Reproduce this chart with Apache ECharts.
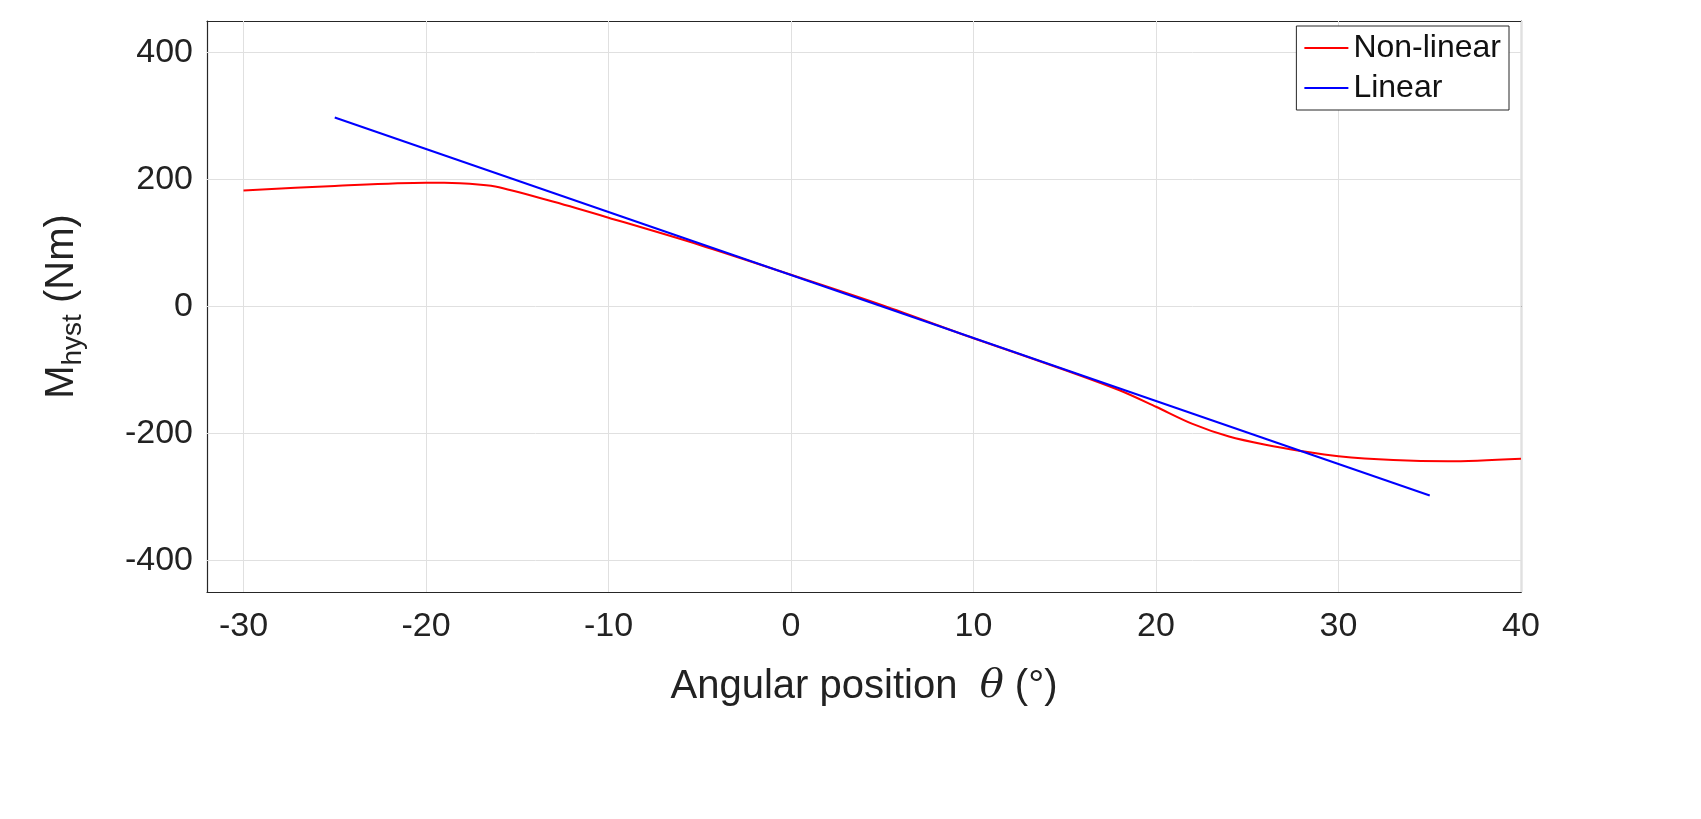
<!DOCTYPE html>
<html>
<head>
<meta charset="utf-8">
<script src="https://cdn.jsdelivr.net/npm/echarts@6/dist/echarts.min.js"></script>
</head>
<body style="margin:0;background:#fff">
<div id="main" style="width:1701px;height:819px"></div>
<script>
// data
var nonLinear = [[-30,183],[-25,190],[-20,195],[-19,195],[-17,192],[-16,188],[-13,165],[-10,140],[-5,97],[0,50],[5,2],[10,-50],[15,-100],[18,-132],[20,-158],[22,-185],[24,-205],[26,-218],[28,-228],[30,-236],[33,-242],[36,-244],[40,-240]];
var linear = [[-25,298],[35,-298]];
var xTicks = [-30,-20,-10,0,10,20,30,40];
var yTicks = [-400,-200,0,200,400];

var chart = echarts.init(document.getElementById('main'));
var font = 'Liberation Sans, Arial, sans-serif';
var frame = {color: '#262626', width: 1.2};
chart.setOption({
  animation: false,
  grid: {left: 207, right: 180, top: 21, bottom: 227},
  legend: {
    right: 192, top: 26, orient: 'vertical', itemWidth: 44, itemHeight: 2, itemGap: 8, z: 20,
    backgroundColor: '#fff', borderColor: '#262626', borderWidth: 1, borderRadius: 0,
    padding: [6, 8, 6, 8],
    textStyle: {fontSize: 32, fontFamily: font, color: '#111'},
    icon: 'rect',
    data: ['Non-linear', 'Linear']
  },
  xAxis: [{
    type: 'value', min: -32, max: 40,
    name: 'Angular position  {i|θ} (°)', nameLocation: 'middle', nameGap: 75,
    nameTextStyle: {fontSize: 40, fontFamily: font, color: '#222', rich: {i: {fontSize: 40, fontStyle: 'italic', fontFamily: 'DejaVu Serif'}}},
    axisLine: {onZero: false, lineStyle: frame},
    axisTick: {customValues: xTicks, inside: true, length: 10, lineStyle: {color: '#262626'}},
    axisLabel: {customValues: xTicks, fontSize: 34, fontFamily: font, color: '#222', margin: 18},
    splitLine: {show: false}
  }, {
    type: 'value', min: -32, max: 40, position: 'top',
    axisLine: {show: true, onZero: false, lineStyle: frame},
    axisTick: {show: false}, axisLabel: {show: false}, splitLine: {show: false}
  }],
  yAxis: [{
    type: 'value', min: -450, max: 450,
    name: '{m|M}{s|hyst}{m| (Nm)}', nameLocation: 'middle', nameGap: 120,
    nameTextStyle: {rich: {m: {fontSize: 40, fontFamily: font, color: '#222'}, s: {fontSize: 28, fontFamily: font, color: '#222', padding: [22, 0, 0, 0]}}},
    axisLine: {show: true, onZero: false, lineStyle: frame},
    axisTick: {customValues: yTicks, inside: true, length: 10, lineStyle: {color: '#262626'}},
    axisLabel: {customValues: yTicks, fontSize: 34, fontFamily: font, color: '#222', margin: 14},
    splitLine: {show: false}
  }, {
    type: 'value', min: -450, max: 450, position: 'right',
    axisLine: {show: true, onZero: false, lineStyle: frame},
    axisTick: {show: false}, axisLabel: {show: false}, splitLine: {show: false}
  }],
  series: [
    {name: 'grid', type: 'line', data: [], silent: true, z: 1,
     markLine: {silent: true, symbol: 'none', label: {show: false}, z: 1,
       lineStyle: {color: '#e0e0e0', width: 1, type: 'solid'},
       data: xTicks.map(function (v) { return {xAxis: v}; }).concat(yTicks.map(function (v) { return {yAxis: v}; }))}},
    {name: 'Non-linear', type: 'line', data: nonLinear, smooth: 0.3, showSymbol: false,
     lineStyle: {color: '#ff0000', width: 2}, itemStyle: {color: '#ff0000'}},
    {name: 'Linear', type: 'line', data: linear, showSymbol: false,
     lineStyle: {color: '#0000ff', width: 2}, itemStyle: {color: '#0000ff'}}
  ]
});
</script>
</body>
</html>
